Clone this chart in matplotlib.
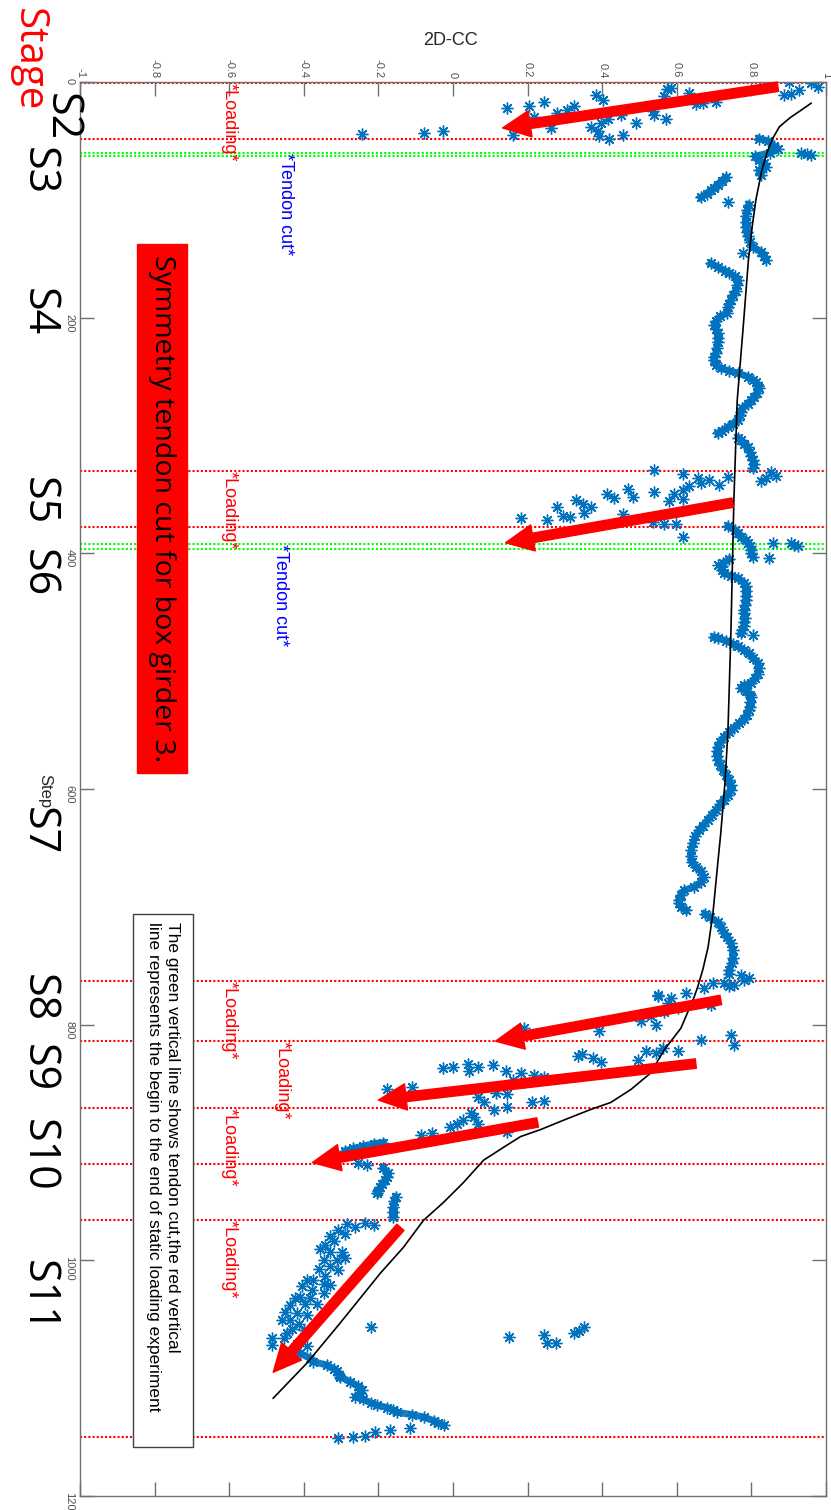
import numpy as np
import matplotlib
matplotlib.use("Agg")
import matplotlib.pyplot as plt
from matplotlib.patches import Rectangle

nan = np.nan

# dense 2D-CC trace, (step, cc); nan breaks the trace into pieces
band = [(48, 0.82), (50, 0.845), (54, 0.86), (57, 0.87), (60, 0.85), (63, 0.81), (66, 0.82),
        (69, 0.834), (72, 0.84), (75, 0.82), (79, 0.826), (nan, nan),
        (81, 0.732), (84, 0.72), (87, 0.71), (90, 0.70), (92, 0.691), (95, 0.68), (98, 0.664), (nan, nan),
        (104, 0.793), (109, 0.788), (114, 0.785), (119, 0.785), (123, 0.785), (127, 0.787), (131, 0.79),
        (136, 0.797), (140, 0.804), (144, 0.826), (148, 0.835), (151, 0.839), (nan, nan),
        (154, 0.691), (157, 0.71), (160, 0.728), (162, 0.74), (165, 0.755), (168, 0.764), (172, 0.762),
        (177, 0.758), (181, 0.75), (185, 0.745), (188, 0.74), (191, 0.737), (196, 0.735), (199, 0.715),
        (203, 0.705), (206, 0.70), (210, 0.705), (213, 0.71), (217, 0.71), (221, 0.71), (226, 0.707),
        (230, 0.705), (233, 0.70), (236, 0.699), (240, 0.705), (243, 0.718), (245, 0.74), (247, 0.764),
        (250, 0.79), (253, 0.805), (255, 0.812), (258, 0.818), (260, 0.82), (264, 0.815), (267, 0.807),
        (270, 0.799), (273, 0.79), (277, 0.775), (280, 0.772), (283, 0.77), (287, 0.764), (290, 0.75),
        (293, 0.737), (296, 0.72), (298, 0.71), (nan, nan),
        (302, 0.765), (304, 0.772), (307, 0.78), (310, 0.79), (314, 0.795), (317, 0.799), (321, 0.803),
        (324, 0.807), (328, 0.804), (nan, nan),
        (377, 0.737), (380, 0.755), (383, 0.764), (386, 0.772), (389, 0.785), (391, 0.79), (394, 0.797),
        (397, 0.80), (400, 0.80), (403, 0.804), (nan, nan),
        (405, 0.74), (408, 0.725), (411, 0.72), (414, 0.722), (417, 0.726), (419, 0.745), (421, 0.764),
        (425, 0.78), (428, 0.785), (432, 0.785), (436, 0.785), (440, 0.785), (444, 0.783), (448, 0.78),
        (451, 0.78), (455, 0.782), (458, 0.78), (462, 0.78), (465, 0.776), (468, 0.772), (nan, nan),
        (471, 0.699), (472, 0.71), (474, 0.732), (477, 0.75), (479, 0.764), (482, 0.78), (485, 0.793),
        (489, 0.805), (493, 0.817), (497, 0.82), (502, 0.817), (506, 0.81), (510, 0.799), (512, 0.78),
        (514, 0.772), (517, 0.785), (520, 0.797), (522, 0.799), (526, 0.797), (530, 0.795), (533, 0.793),
        (537, 0.787), (541, 0.78), (544, 0.767), (548, 0.753), (552, 0.74), (556, 0.726), (560, 0.717),
        (564, 0.71), (568, 0.708), (572, 0.709), (575, 0.71), (580, 0.716), (584, 0.724), (588, 0.732),
        (592, 0.74), (597, 0.745), (601, 0.745), (605, 0.737), (609, 0.726), (613, 0.716), (618, 0.705),
        (622, 0.694), (626, 0.683), (631, 0.67), (635, 0.659), (640, 0.65), (646, 0.643), (652, 0.639),
        (657, 0.637), (662, 0.64), (666, 0.651), (670, 0.665), (675, 0.672), (679, 0.665), (683, 0.646),
        (686, 0.62), (690, 0.61), (694, 0.606), (697, 0.606), (700, 0.611), (703, 0.625), (nan, nan),
        (706, 0.675), (709, 0.69), (713, 0.71), (717, 0.718), (722, 0.726), (726, 0.735), (731, 0.745),
        (737, 0.75), (743, 0.75), (748, 0.747), (754, 0.74), (757, 0.74), (nan, nan),
        (900, -0.187), (901, -0.213), (903, -0.240), (905, -0.267), (907, -0.289), (nan, nan),
        (922, -0.187), (926, -0.173), (929, -0.177), (932, -0.181), (935, -0.19), (938, -0.195),
        (941, -0.2), (943, -0.203), (nan, nan),
        (946, -0.154), (950, -0.157), (955, -0.160), (959, -0.160), (963, -0.160), (nan, nan),
        (1079, -0.409), (1083, -0.383), (1086, -0.374), (1089, -0.337), (1092, -0.32), (1094, -0.310),
        (1097, -0.305), (1099, -0.302), (1103, -0.275), (1107, -0.254), (1110, -0.245), (1113, -0.248),
        (1116, -0.262), (1118, -0.240), (1121, -0.22), (1123, -0.203), (1125, -0.176), (1127, -0.16),
        (1129, -0.149), (1131, -0.109), (1133, -0.079), (1136, -0.052), (1138, -0.04), (1140, -0.025)]

# loose points around the loading / cutting stages
early = [(0, 0.90), (1, 0.96), (4, 0.979), (7, 0.928), (11, 0.887), (10, 0.906),
         (6, 0.575), (12, 0.565), (9, 0.632), (19, 0.651), (17, 0.705), (5, 0.584), (18, 0.670),
         (25, 0.535), (28, 0.538), (31, 0.570), (35, 0.490), (28, 0.450),
         (11, 0.383), (15, 0.401), (31, 0.415), (35, 0.396), (38, 0.369), (42, 0.388), (46, 0.391),
         (48, 0.418), (45, 0.455), (20, 0.324), (24, 0.305), (26, 0.278), (39, 0.262), (17, 0.243),
         (20, 0.203), (22, 0.146), (30, 0.216), (45, 0.162), (42, -0.028), (43, -0.079), (44, -0.243),
         (60, 0.933), (61, 0.95), (62, 0.96), (102, 0.737), (145, 0.777)]

middle = [(331, 0.852), (334, 0.866), (339, 0.826), (336, 0.84),
          (329, 0.539), (333, 0.616), (336, 0.656), (338, 0.686), (335, 0.737), (342, 0.713),
          (340, 0.664), (343, 0.632), (346, 0.616), (350, 0.592), (356, 0.579), (354, 0.616),
          (348, 0.539), (345, 0.468), (352, 0.482), (350, 0.412), (353, 0.431), (361, 0.369),
          (358, 0.348), (355, 0.329), (366, 0.351), (369, 0.315), (361, 0.280), (368, 0.294),
          (372, 0.253), (370, 0.181), (367, 0.455), (373, 0.535), (375, 0.565), (375, 0.597),
          (386, 0.616), (391, 0.858), (391, 0.906), (393, 0.915), (394, 0.924), (404, 0.847),
          (410, 0.71), (469, 0.804)]

late = [(758, 0.772), (760, 0.793), (762, 0.78), (765, 0.726), (765, 0.697), (766, 0.753),
        (767, 0.74), (769, 0.672), (773, 0.624), (777, 0.584), (775, 0.549),
        (776, 0.549), (782, 0.576), (797, 0.503), (793, 0.530), (800, 0.544), (789, 0.565),
        (786, 0.603), (805, 0.391), (803, 0.190), (783, 0.691), (809, 0.745), (817, 0.753),
        (813, 0.664), (827, 0.334), (825, 0.345), (828, 0.374), (832, 0.396), (830, 0.495),
        (822, 0.517), (824, 0.544), (820, 0.562), (822, 0.603),
        (837, -0.028), (836, -0.001), (833, 0.039), (839, 0.042), (836, 0.068), (834, 0.106),
        (839, 0.141), (841, 0.181), (843, 0.216), (844, 0.243), (847, 0.162), (849, 0.190),
        (855, -0.176), (853, -0.109), (858, -0.141),
        (858, 0.114), (859, 0.146), (861, 0.066), (866, 0.082), (870, 0.146), (872, 0.109),
        (866, 0.213), (865, 0.243), (875, 0.047), (881, 0.028), (884, 0.012), (887, -0.007),
        (891, 0.146), (884, 0.066), (878, 0.055), (892, -0.055), (894, -0.087),
        (917, -0.256), (919, -0.230)]

final = [(970, -0.213), (968, -0.235), (972, -0.262), (969, -0.284), (974, -0.307), (978, -0.289),
         (979, -0.329), (984, -0.320), (987, -0.342), (990, -0.356), (993, -0.329), (993, -0.297),
         (998, -0.289), (1000, -0.311), (1000, -0.347), (1007, -0.360), (1005, -0.329), (1008, -0.307),
         (1013, -0.342), (1017, -0.374), (1017, -0.391), (1022, -0.405), (1020, -0.347), (1021, -0.329),
         (1025, -0.378), (1028, -0.347), (1031, -0.409), (1032, -0.383), (1032, -0.423), (1037, -0.396),
         (1038, -0.436), (1037, -0.365), (1044, -0.450), (1045, -0.418), (1046, -0.391), (1051, -0.436),
         (1051, -0.459), (1054, -0.414), (1058, -0.432), (1062, -0.445), (1059, -0.400), (1066, -0.454),
         (1066, -0.485), (1072, -0.485), (1071, -0.418), (1073, -0.391), (1057, -0.221),
         (1065, 0.149), (1063, 0.243), (1070, 0.253), (1070, 0.275), (1062, 0.324), (1060, 0.338),
         (1057, 0.351),
         (1142, -0.114), (1144, -0.168), (1146, -0.208), (1149, -0.235), (1150, -0.267), (1151, -0.307)]

# fitted trend
fit_step = [18, 24, 30, 38, 48, 60, 75, 100, 123, 151, 208, 270, 355, 468, 552, 595, 637, 669,
            705, 734, 753, 768, 777, 803, 822, 841, 855, 866, 872, 881, 889, 895, 904, 915, 934,
            951, 966, 989, 1011, 1053, 1087, 1117]
fit_cc = [0.960, 0.933, 0.905, 0.875, 0.857, 0.842, 0.828, 0.812, 0.802, 0.792, 0.778, 0.762,
          0.753, 0.745, 0.737, 0.729, 0.718, 0.708, 0.697, 0.684, 0.670, 0.656, 0.646, 0.611,
          0.565, 0.530, 0.477, 0.423, 0.369, 0.297, 0.235, 0.181, 0.136, 0.082, 0.028, -0.026,
          -0.079, -0.133, -0.195, -0.302, -0.391, -0.482]

loading_steps = [1, 48, 330, 378, 763, 814, 871, 918, 966, 1150]
cut_steps = [60, 63, 392, 396]

stage_names = ['S2', 'S3', 'S4', 'S5', 'S6', 'S7', 'S8', 'S9', 'S10', 'S11']
stage_steps = [29.7, 75.5, 195, 356, 417, 636, 777, 837, 911, 1031]

blue = '#0072BD'
mfont = 'Liberation Sans'
pfont = 'Open Sans'

fig = plt.figure(figsize=(8.31, 15.10), dpi=100)
ax = fig.add_axes([80/831, 14/1510, 746/831, 1414/1510])
ax.set_xlim(-1, 1)
ax.set_ylim(1200, 0)

for s in loading_steps:
    ax.axhline(s, color='red', ls=(0, (1, 1)), lw=1.5, zorder=1)
for s in cut_steps:
    ax.axhline(s, color='#00ff00', ls=(0, (1, 1)), lw=1.5, zorder=1)

b = np.array(band, dtype=float)
ax.plot(b[:, 1], b[:, 0], color=blue, lw=5, alpha=0.9, zorder=2)
ax.plot(b[:, 1], b[:, 0], ls='none', marker=(8, 2, 0), ms=8.5, mew=1.0, color=blue, zorder=2)
for grp in [early, middle, late, final]:
    g = np.array(grp, dtype=float)
    ax.plot(g[:, 1], g[:, 0], ls='none', marker=(8, 2, 0), ms=8.5, mew=1.0, color=blue, zorder=2)

ax.plot(fit_cc, fit_step, color='black', lw=1.2, zorder=3)

# annotations on the axes
for s, x in [(1, -0.60), (330, -0.60), (763, -0.60), (814, -0.458), (871, -0.60), (966, -0.60)]:
    ax.text(x, s, '*Loading*', color='red', rotation=-90, fontsize=13, family=mfont,
            ha='center', va='top', zorder=4)
for s, x in [(60, -0.45), (392, -0.463)]:
    ax.text(x, s, '*Tendon cut*', color='blue', rotation=-90, fontsize=13, family=mfont,
            ha='center', va='top', zorder=4)

ax.add_patch(Rectangle((-0.847, 137.5), 0.134, 449, color='red', zorder=4))
ax.text(-0.780, 362, 'Symmetry tendon cut for box girder 3.', rotation=-90, fontsize=20.5,
        family=pfont, ha='center', va='center', zorder=5)

ax.add_patch(Rectangle((-0.858, 706), 0.161, 452, fc='white', ec='#404040', lw=1, zorder=4))
ax.text(-0.777, 713, 'The green vertical line shows tendon cut,the red vertical\n'
        'line represents the begin to the end of static loading experiment',
        rotation=-90, fontsize=12.5, family=mfont, ha='center', va='top',
        multialignment='left', linespacing=1.3, zorder=5)

arrows = [((0.871, 4), (0.133, 39)), ((0.750, 357), (0.141, 391)),
          ((0.718, 779), (0.114, 814)), ((0.651, 833), (-0.200, 864)),
          ((0.227, 883), (-0.377, 917)), ((-0.141, 972), (-0.482, 1095))]
for tail, tip in arrows:
    ax.annotate('', xy=tip, xytext=tail, zorder=6,
                arrowprops=dict(arrowstyle='simple,head_length=1.0,head_width=0.95,tail_width=0.34',
                                mutation_scale=20, color='red', shrinkA=0, shrinkB=0))

# stage labels down the left side
for name, s in zip(stage_names, stage_steps):
    x = -1.051 if name == 'S2' else -1.113
    ax.text(x, s, name, rotation=-90, fontsize=31, family=pfont, ha='center', va='center',
            clip_on=False)
ax.text(-1.140, -19, 'Stage', color='red', rotation=-90, fontsize=29, family=pfont,
        ha='center', va='center', clip_on=False)

# axes styling
ax.xaxis.tick_top()
ax.set_xticks(np.arange(-1, 1.01, 0.2))
ax.set_xticklabels(['-1', '-0.8', '-0.6', '-0.4', '-0.2', '0', '0.2', '0.4', '0.6', '0.8', '1'])
ax.set_yticks(np.arange(0, 1201, 200))
ax.tick_params(direction='in', length=10, width=1, color='#707070', labelcolor='#505050',
               labelsize=8, top=True, bottom=True, left=True, right=True)
ax.tick_params(axis='x', labelrotation=-90, pad=3)
ax.tick_params(axis='y', labelrotation=-90, pad=4)
for lab in ax.get_xticklabels() + ax.get_yticklabels():
    lab.set_family(mfont)
for sp in ax.spines.values():
    sp.set_color('#707070')
    sp.set_linewidth(1)

ax.text(0.497, 1.0297, '2D-CC', transform=ax.transAxes, fontsize=13, family=mfont,
        color='#262626', ha='center', va='center')
ax.text(-0.047, 0.4986, 'Step', transform=ax.transAxes, fontsize=12, family=mfont,
        color='#262626', rotation=-90, ha='center', va='center')

fig.savefig('out.png', dpi=100)
